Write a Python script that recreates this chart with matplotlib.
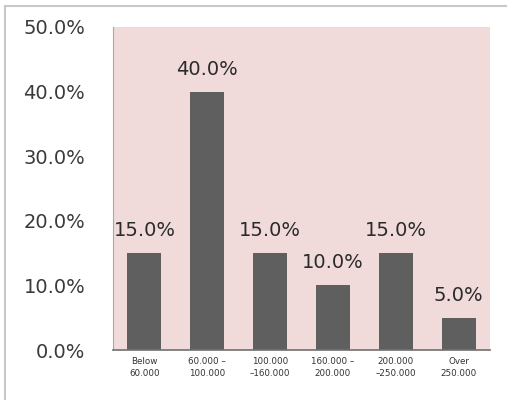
import matplotlib
matplotlib.use("Agg")
import matplotlib.pyplot as plt
from matplotlib.patches import Rectangle
from matplotlib.ticker import FuncFormatter, MultipleLocator

categories = ["Below\n60.000", "60.000 –\n100.000", "100.000\n–160.000",
              "160.000 –\n200.000", "200.000\n–250.000", "Over\n250.000"]
shares = [15.0, 40.0, 15.0, 10.0, 15.0, 5.0]

fig = plt.figure(figsize=(5.07, 4.0), dpi=100)
fig.patch.set_facecolor("white")
ax = fig.add_axes([113 / 507, 50 / 400, 377 / 507, 323 / 400])
ax.set_facecolor("#f0dada")

x = range(len(categories))
bars = ax.bar(x, shares, width=0.54, color="#5f5f5f", zorder=2)

for xi, v in zip(x, shares):
    ax.text(xi, v + 2.0, f"{v:.1f}%", ha="center", va="bottom",
            fontsize=14, color="#2a2a2a", clip_on=False)

ax.set_ylim(0, 50)
ax.set_xlim(-0.5, len(categories) - 0.5)
ax.yaxis.set_major_locator(MultipleLocator(10))
ax.yaxis.set_major_formatter(FuncFormatter(lambda v, _: f"{v:.1f}%"))
ax.set_xticks(list(x))
ax.set_xticklabels(categories, fontsize=6.3, color="#333333", linespacing=1.5)
ax.tick_params(axis="y", labelsize=14, labelcolor="#3a3a3a", length=0, pad=20)
ax.tick_params(axis="x", length=0, pad=5)

for side in ("top", "right"):
    ax.spines[side].set_visible(False)
ax.spines["left"].set_color("#a8a8a8")
ax.spines["bottom"].set_color("#707070")
ax.spines["bottom"].set_linewidth(1.2)

# light outer frame
fig.add_artist(Rectangle((5 / 507, -0.05), 1.2, 1.05 - 6 / 400,
                         transform=fig.transFigure, fill=False,
                         edgecolor="#c8c8c8", linewidth=1.5))

fig.savefig("out.png", dpi=100)
